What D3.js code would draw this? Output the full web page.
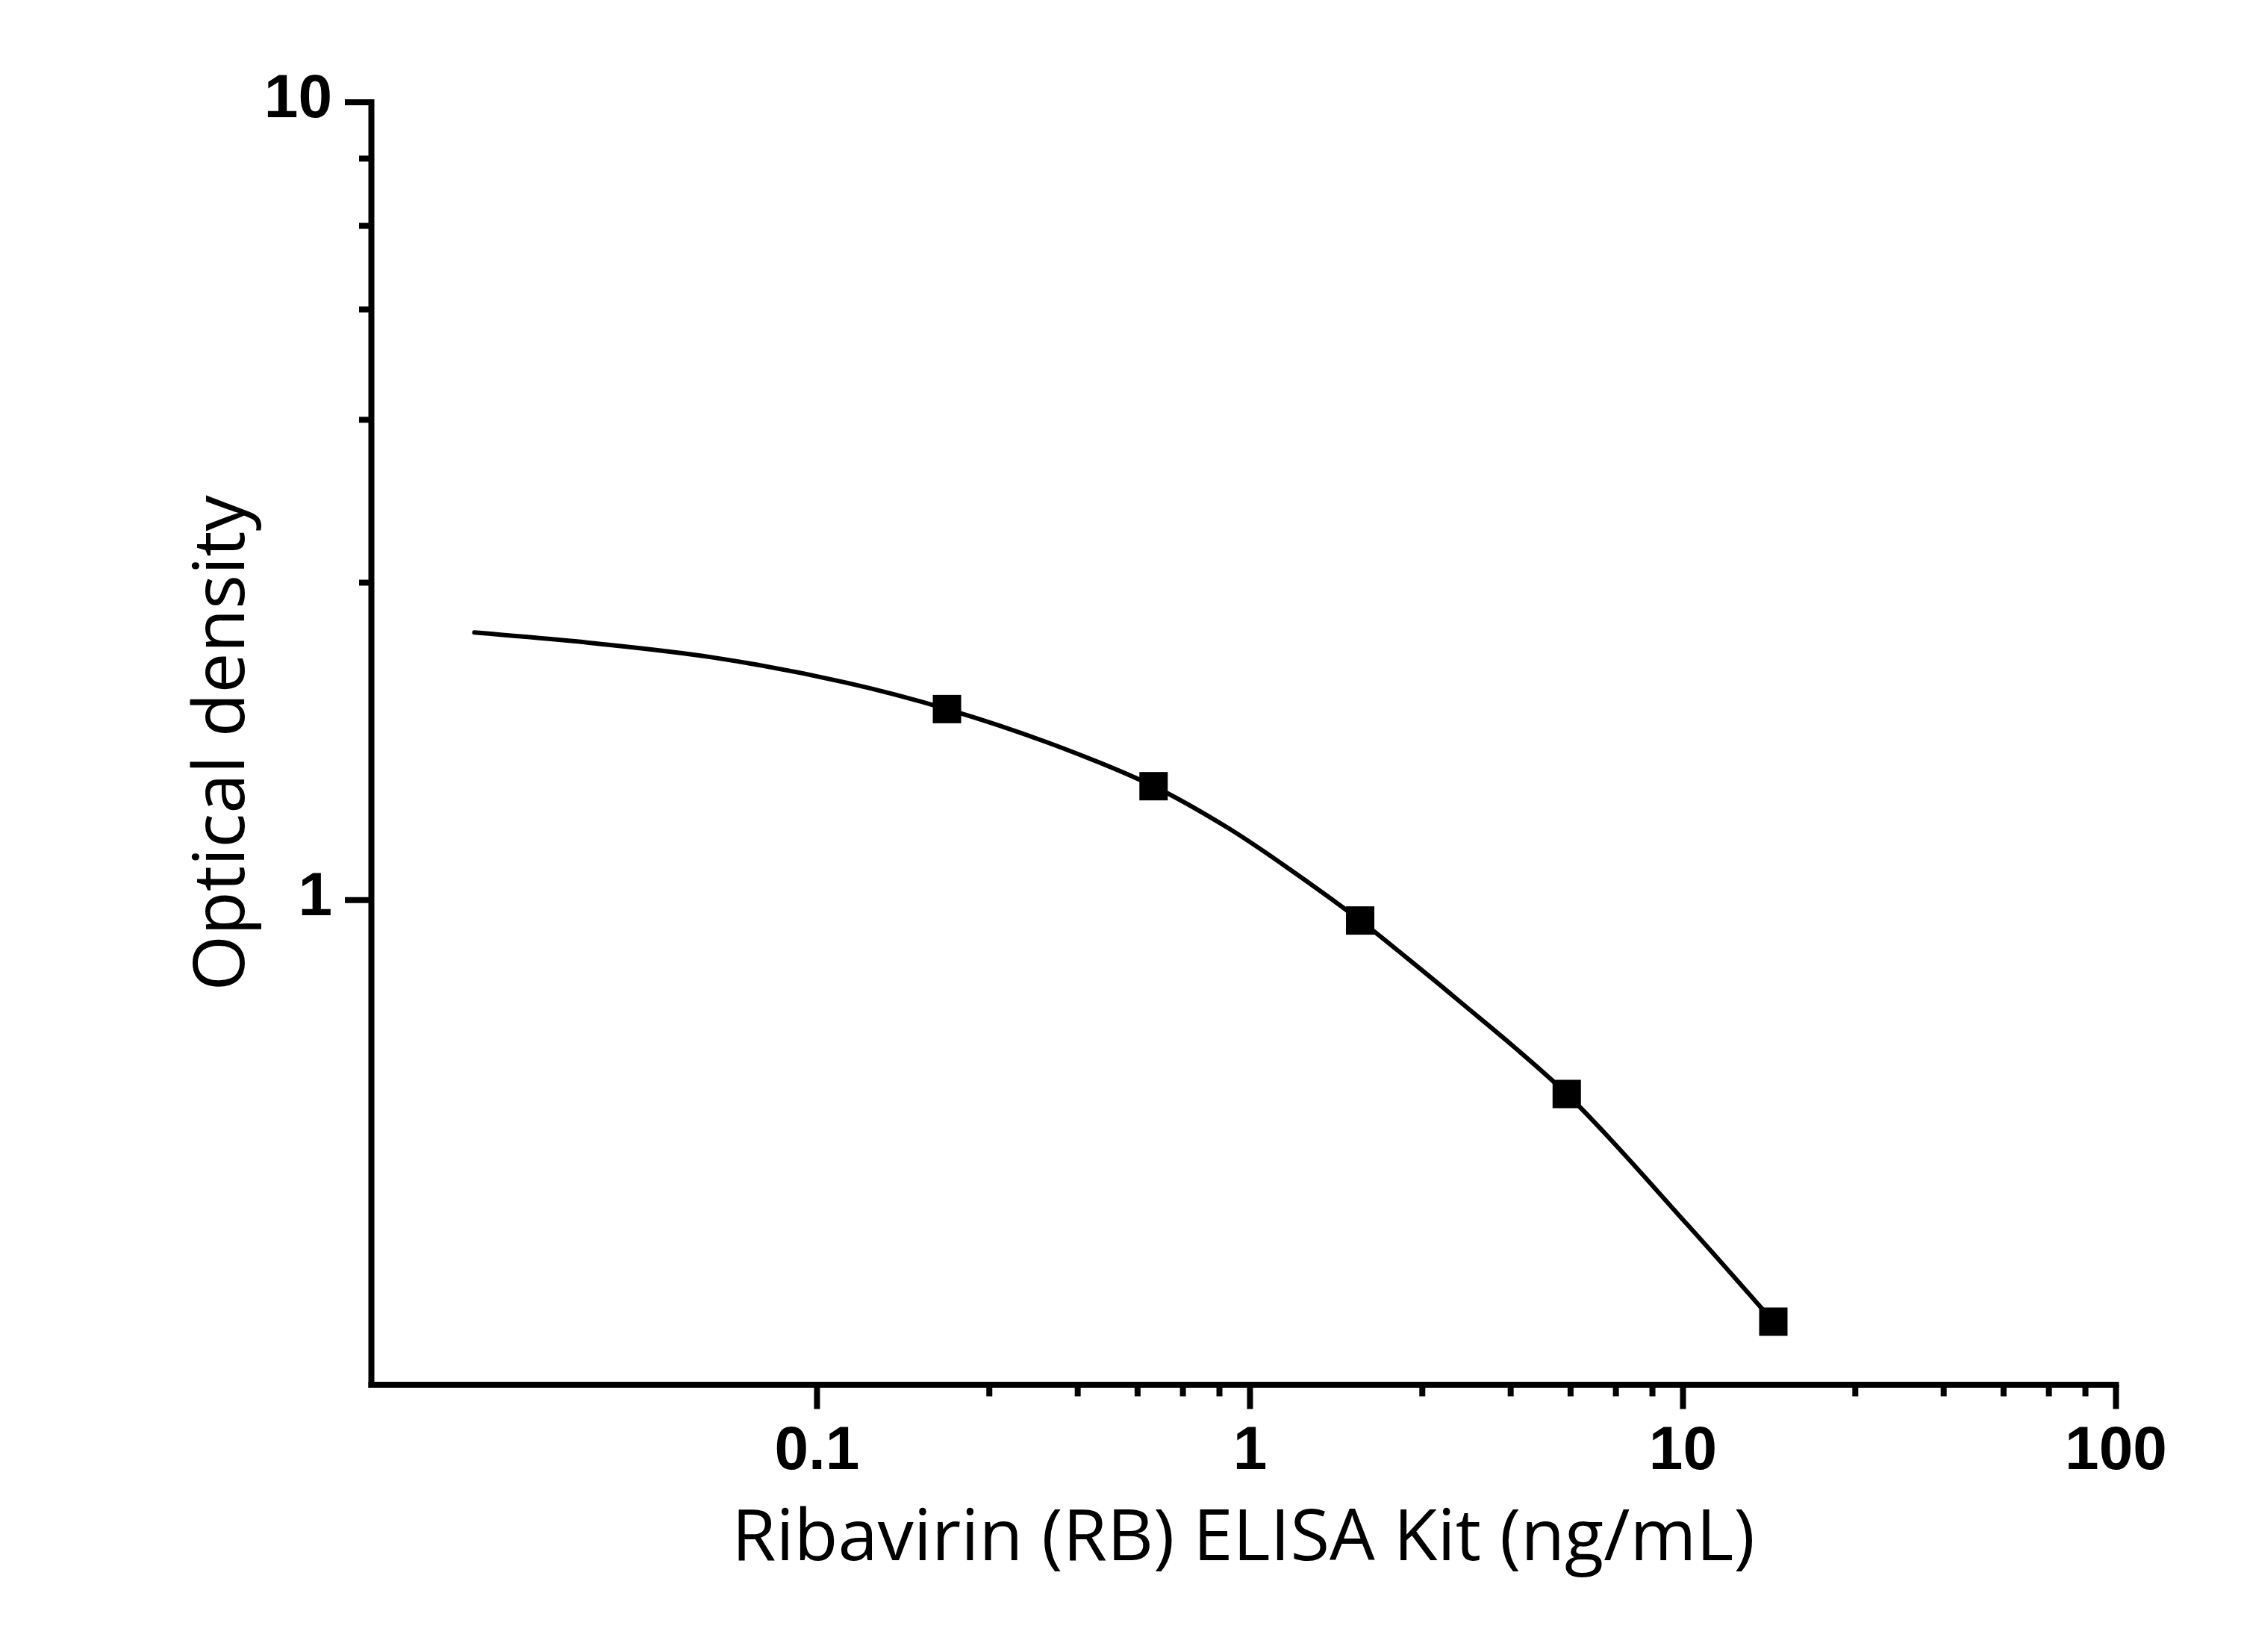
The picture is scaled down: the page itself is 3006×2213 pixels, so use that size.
<!DOCTYPE html>
<html>
<head>
<meta charset="utf-8">
<title>Ribavirin (RB) ELISA Kit standard curve</title>
<style>
  body { margin: 0; background: #fff; }
  svg { display: block; }
  .tick-label { font-family: "Liberation Sans", Arial, sans-serif; font-weight: bold; font-size: 82px; fill: #000; }
  .axis-title { font-family: "Open Sans", "Noto Sans", sans-serif; font-size: 96px; fill: #000; }
</style>
</head>
<body>
<svg width="3006" height="2213"></svg>
<script src="https://cdn.jsdelivr.net/npm/d3@7"></script>
<script>
  // standard points (concentration in ng/mL, optical density)
  var concentrations = [0.2, 0.6, 1.8, 5.4, 16.2];
  var odValues = [1.734, 1.388, 0.942, 0.571, 0.296];

  // fitted curve
  var fitX = [0.0162, 0.0303, 0.0571, 0.1168, 0.2, 0.341, 0.6, 0.884, 1.186, 1.8, 2.293, 2.991, 5.4, 10.24, 16.2];
  var fitY = [2.163, 2.098, 2.014, 1.872, 1.734, 1.575, 1.388, 1.234, 1.110, 0.942, 0.848, 0.753, 0.571, 0.392, 0.296];

  // ticks
  var xMajorTicks = [0.1, 1, 10, 100];
  var xMajorLabels = ['0.1', '1', '10', '100'];
  var xMinorTicks = [0.25, 0.4, 0.55, 0.7, 0.85, 2.5, 4, 5.5, 7, 8.5, 25, 40, 55, 70, 85];
  var yMajorTicks = [1, 10];
  var yMajorLabels = ['1', '10'];
  var yMinorTicks = [2.5, 4, 5.5, 7, 8.5];

  var xTitle = 'Ribavirin (RB) ELISA Kit (ng/mL)';
  var yTitle = 'Optical density';

  var svg = d3.select('svg');

  // plot frame in pixels
  var plotLeft = 497, plotRight = 2834, plotTop = 136.5, plotBottom = 1854.5;

  var x = d3.scaleLog().domain([0.00935, 100]).range([plotLeft, plotRight]);
  var y = d3.scaleLog().domain([0.247, 10]).range([plotBottom, plotTop]);

  // x axis: minor ticks first, then major ticks with labels and the axis line
  var xMinor = svg.append('g')
    .attr('transform', 'translate(0,' + plotBottom + ')')
    .call(d3.axisBottom(x).tickValues(xMinorTicks).tickFormat('').tickSize(16).tickSizeOuter(0));
  xMinor.select('.domain').remove();

  var xAxis = svg.append('g')
    .attr('transform', 'translate(0,' + plotBottom + ')')
    .call(d3.axisBottom(x).tickValues(xMajorTicks)
      .tickFormat(function(d, i) { return xMajorLabels[i]; })
      .tickSize(33).tickSizeOuter(0));

  xAxis.attr('font-size', null).attr('font-family', null);
  xAxis.selectAll('text')
    .attr('class', 'tick-label')
    .attr('y', 113.5)
    .attr('dy', 0);

  var yMinor = svg.append('g')
    .attr('transform', 'translate(' + plotLeft + ',0)')
    .call(d3.axisLeft(y).tickValues(yMinorTicks).tickFormat('').tickSize(16).tickSizeOuter(0));
  yMinor.select('.domain').remove();

  var yAxis = svg.append('g')
    .attr('transform', 'translate(' + plotLeft + ',0)')
    .call(d3.axisLeft(y).tickValues(yMajorTicks)
      .tickFormat(function(d, i) { return yMajorLabels[i]; })
      .tickSize(35).tickSizeOuter(0));

  yAxis.attr('font-size', null).attr('font-family', null);
  yAxis.selectAll('text')
    .attr('class', 'tick-label')
    .attr('x', -52)
    .attr('dy', 20);

  svg.selectAll('.domain')
    .attr('stroke', '#000')
    .attr('stroke-width', 8)
    .attr('stroke-linecap', 'square');

  svg.selectAll('.tick line')
    .attr('stroke', '#000')
    .attr('stroke-width', 8);

  // fitted curve
  var line = d3.line()
    .x(function(d) { return x(d[0]); })
    .y(function(d) { return y(d[1]); })
    .curve(d3.curveCatmullRom.alpha(0.5));

  svg.append('path')
    .datum(fitX.map(function(v, i) { return [v, fitY[i]]; }))
    .attr('d', line)
    .attr('fill', 'none')
    .attr('stroke', '#000')
    .attr('stroke-width', 6)
    .attr('stroke-linecap', 'round')
    .attr('stroke-linejoin', 'round');

  // square markers
  var size = 38;
  svg.selectAll('rect.point')
    .data(concentrations)
    .enter().append('rect')
    .attr('class', 'point')
    .attr('x', function(d) { return x(d) - size / 2; })
    .attr('y', function(d, i) { return y(odValues[i]) - size / 2; })
    .attr('width', size)
    .attr('height', size)
    .attr('fill', '#000');

  // axis titles
  svg.append('text')
    .attr('class', 'axis-title')
    .attr('x', (plotLeft + plotRight) / 2)
    .attr('y', 2090)
    .attr('text-anchor', 'middle')
    .text(xTitle);

  svg.append('text')
    .attr('class', 'axis-title')
    .attr('transform', 'translate(327,' + (plotTop + plotBottom) / 2 + ') rotate(-90)')
    .attr('text-anchor', 'middle')
    .text(yTitle);
</script>
</body>
</html>
